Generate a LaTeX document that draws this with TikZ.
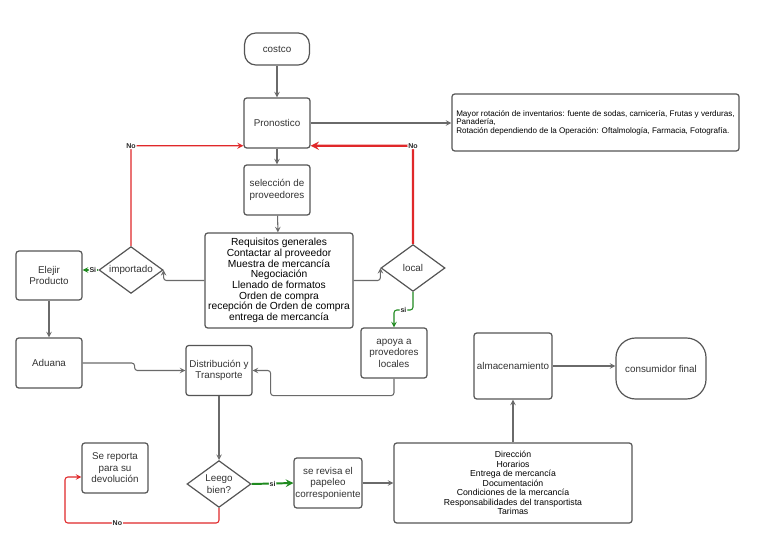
\documentclass[tikz,border=0pt]{standalone}
\usepackage{fontspec}
\setmainfont{Liberation Sans}
\usetikzlibrary{shapes.geometric, arrows, positioning}
\definecolor{lineGray}{HTML}{6A6A6A}
\definecolor{boxGray}{HTML}{555555}
\definecolor{noRed}{HTML}{E0282A}
\definecolor{siGreen}{HTML}{1F8A1F}
\tikzstyle{process} = [rectangle, rounded corners=2pt, minimum width=1.65cm, minimum height=1.25cm, inner sep=1pt, text centered, align=center, draw=boxGray, line width=0.85pt, fill=white, text=black!80, font=\fontsize{7}{8.2}\selectfont]
\tikzstyle{terminal} = [process, rounded corners=8pt, minimum height=0.8cm]
\tikzstyle{decision} = [diamond, aspect=1.37, minimum width=1.6cm, minimum height=1.17cm, inner sep=0pt, text centered, align=center, draw=boxGray, line width=0.85pt, fill=white, text=black!80, font=\fontsize{7}{8.2}\selectfont]
\tikzstyle{arrow} = [line width=0.75pt, draw=lineGray, rounded corners=2pt, ->, >=stealth]
\tikzstyle{noLink} = [arrow, draw=noRed]
\tikzstyle{siLink} = [arrow, draw=siGreen]
\tikzstyle{tag} = [font=\fontsize{5}{5}\selectfont\bfseries, inner sep=0.6pt, fill=white, text=black!85]

\begin{document}
\begin{tikzpicture}[x=0.025cm, y=-0.025cm]
    \useasboundingbox [fill=white] (0,0) rectangle (768,543);
    \node (costco) [terminal, minimum width=1.62cm] at (277,49) {costco};
    \node (pron) [process] at (277,123) {Pronostico};
    \node (info) [process, minimum width=7.175cm, minimum height=1.425cm, align=left, text=black, font=\fontsize{5.75}{6}\selectfont] at (595.5,122.5) {Mayor rotación de inventarios: fuente de sodas, carnicería, Frutas y verduras,\\Panadería,\\Rotación dependiendo de la Operación: Oftalmología, Farmacia, Fotografía.};
    \node (sel) [process] at (277,190) {selección de\\proveedores};
    \node (req) [process, minimum width=3.7cm, minimum height=2.375cm, text=black, font=\fontsize{7.3}{7.6}\selectfont] at (279,280.5) {Requisitos generales\\Contactar al proveedor\\Muestra de mercancía\\Negociación\\Llenado de formatos\\Orden de compra\\recepción de Orden de compra\\entrega de mercancía};
    \node (imp) [decision] at (131,270) {importado};
    \node (elejir) [process, minimum height=1.22cm] at (49,275.5) {Elejir\\Producto};
    \node (loc) [decision] at (413,268) {local};
    \node (apoya) [process] at (394,353) {apoya a\\provedores\\locales};
    \node (adu) [process] at (49,363) {Aduana};
    \node (dist) [process] at (219,370.5) {Distribución y\\Transporte};
    \node (leego) [decision] at (219,484) {Leego\\bien?};
    \node (rep) [process] at (115,468) {Se reporta\\para su\\devolución};
    \node (rev) [process] at (328,483) {se revisa el\\papeleo\\corresponiente};
    \node (dir) [process, minimum width=5.95cm, minimum height=2cm, text=black, font=\fontsize{6.2}{6.8}\selectfont] at (513,483) {Dirección\\Horarios\\Entrega de mercancía\\Documentación\\Condiciones de la mercancía\\Responsabilidades del transportista\\Tarimas};
    \node (alm) [process, minimum width=1.95cm, minimum height=1.65cm] at (513,366) {almacenamiento};
    \node (cons) [terminal, minimum width=2.25cm, minimum height=1.525cm, rounded corners=14pt] at (661,368.5) {consumidor final};
    \coordinate (back) at (65,477);

    \draw [arrow] (costco) -- (pron);
    \draw [arrow] (pron) -- (pron -| info.west);
    \draw [arrow] (pron) -- (sel);
    \draw [arrow] (sel) -- (req);
    \draw [arrow] (req.west) -| (imp.east);
    \draw [arrow] (req.east) -| (loc.west);
    \draw [siLink] (imp.west) -- node[tag, pos=0.35]{Si} (imp.west -| elejir.east);
    \draw [noLink, line width=0.9pt] (imp.north) |- node[tag, pos=0.5]{No} ([yshift=2pt]pron.south west);
    \draw [noLink, line width=1.6pt] (loc.north) |- node[tag, pos=0.5]{No} ([yshift=2pt]pron.south east);
    \draw [siLink] (loc.south) -- ++(0,18) -| node[tag, pos=0.25]{si} (apoya.north);
    \draw [arrow] (elejir) -- (adu);
    \draw [arrow] (adu.east) -- ++(52,0) |- (dist.west);
    \draw [arrow] (apoya.south) -- ++(0,17) -| ([xshift=0.45cm]dist.east) -- (dist.east);
    \draw [arrow] (dist) -- (leego);
    \draw [siLink, line width=1.4pt] (leego.east) -- node[tag]{si} (rev.west);
    \draw [noLink] (leego.south) -- ++(0,15) -| node[tag, pos=0.33]{No} (back) -- (back -| rep.west);
    \draw [arrow] (rev) -- (dir);
    \draw [arrow] (dir) -- (alm);
    \draw [arrow] (alm.east) -- (alm.east -| cons.west);
\end{tikzpicture}
\end{document}
